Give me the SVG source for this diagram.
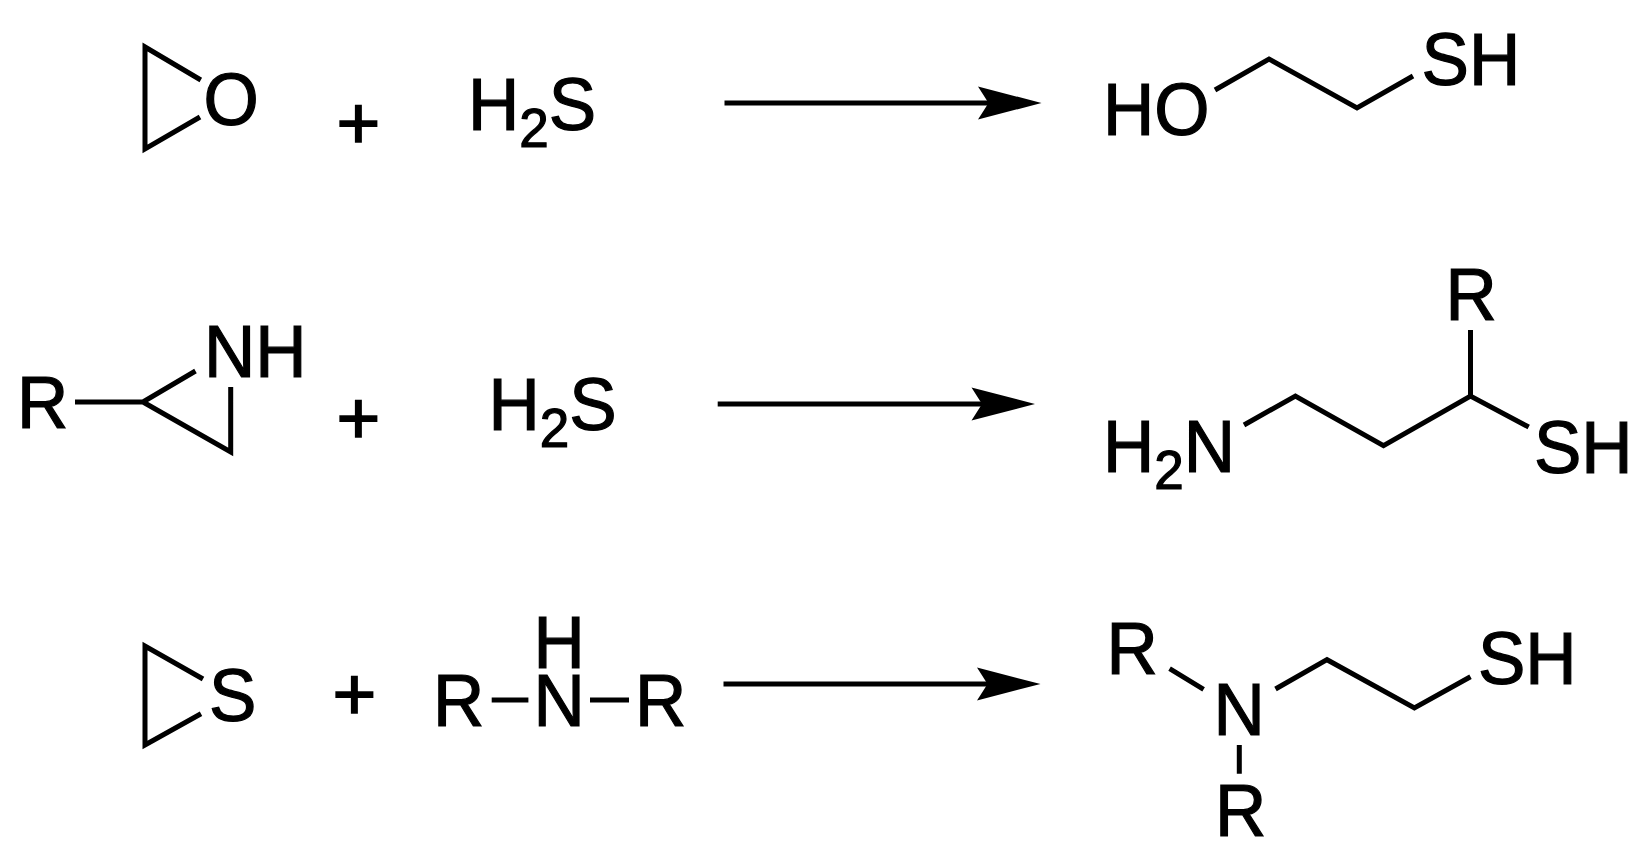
<svg xmlns="http://www.w3.org/2000/svg" width="1644" height="862" viewBox="0 0 1644 862">
<style>
text{font-family:"Liberation Sans",Arial,sans-serif;font-size:71px;fill:#000;stroke:#000;stroke-width:1.2}
.plus{font-size:75px;stroke-width:1.6}
.sub{font-size:53px}
.b{fill:none;stroke:#000;stroke-width:5;stroke-linejoin:miter;stroke-miterlimit:10}
.a{fill:none;stroke:#000;stroke-width:5}
.h{fill:#000}
</style>
<defs>
<polygon id="head" class="h" points="0,0 -63.500,-16.500 -53,0 -63.500,16.500"/>
</defs>
<rect width="1644" height="862" fill="#fff"/>
<g id="oxirane">
<path class="b" d="M200.800,80 L145,47 V149 L200,117"/>
<text transform="translate(203.500,125) scale(1,1.04)">O</text>
</g>
<text id="plus1" class="plus" x="336.600" y="148.800">+</text>
<g id="h2s-1"><text transform="translate(468,130) scale(1,1.04)">H<tspan class="sub" dy="16.500">2</tspan><tspan dy="-16.500">S</tspan></text></g>
<g id="mercaptoethanol">
<path class="b" d="M1215,90 L1269,59 L1357,108 L1413,76"/>
<text transform="translate(1103,135) scale(1,1.04)">HO</text>
<text transform="translate(1421.600,84.500) scale(1,1.04)">SH</text>
</g>
<g id="aziridine">
<path class="b" d="M75,402 H143 L195.500,371 M143,402 L230.700,452 V387"/>
<text transform="translate(17,428) scale(1,1.04)">R</text>
<text transform="translate(204,377) scale(1,1.04)">NH</text>
</g>
<text id="plus2" class="plus" x="336.600" y="443.800">+</text>
<g id="h2s-2"><text transform="translate(488.400,430) scale(1,1.04)">H<tspan class="sub" dy="16.500">2</tspan><tspan dy="-16.500">S</tspan></text></g>
<g id="aminothiol">
<path class="b" d="M1244,425 L1295.400,396 L1383.500,445.700 L1470.500,396 L1528.700,427 M1470.500,396 V330"/>
<text transform="translate(1103,472) scale(1,1.04)">H<tspan class="sub" dy="16.500">2</tspan><tspan dy="-16.500">N</tspan></text>
<text transform="translate(1445.600,320) scale(1,1.04)">R</text>
<text transform="translate(1534,472.500) scale(1,1.04)">SH</text>
</g>
<g id="thiirane">
<path class="b" d="M203,679 L145,646 V745 L201,713.700"/>
<text transform="translate(209,721) scale(1,1.04)">S</text>
</g>
<text id="plus3" class="plus" x="332.600" y="719.500">+</text>
<g id="amine">
<path class="b" d="M491.700,700 H528.400 M590,700 H629"/>
<text transform="translate(433,725.700) scale(1,1.04)">R</text>
<text transform="translate(533.500,725.700) scale(1,1.04)">N</text>
<text transform="translate(635,725.700) scale(1,1.04)">R</text>
<text transform="translate(533.500,667.500) scale(1,1.04)">H</text>
</g>
<g id="aminoethanethiol">
<path class="b" d="M1169.600,668.700 L1203.600,689.300 M1275.500,689 L1327,659.700 L1414.400,708 L1470.500,676.700 M1239.300,745 V773.700"/>
<text transform="translate(1106.500,673.700) scale(1,1.04)">R</text>
<text transform="translate(1213.600,734.700) scale(1,1.04)">N</text>
<text transform="translate(1215,835.700) scale(1,1.04)">R</text>
<text transform="translate(1478,684.300) scale(1,1.04)">SH</text>
</g>
<g id="connectors">
<path class="a" d="M724.500,103 H990"/><use href="#head" x="1041.500" y="103"/>
<path class="a" d="M717.700,404 H982"/><use href="#head" x="1035" y="404"/>
<path class="a" d="M723.500,684 H989"/><use href="#head" x="1040.500" y="684"/>
</g>
</svg>
